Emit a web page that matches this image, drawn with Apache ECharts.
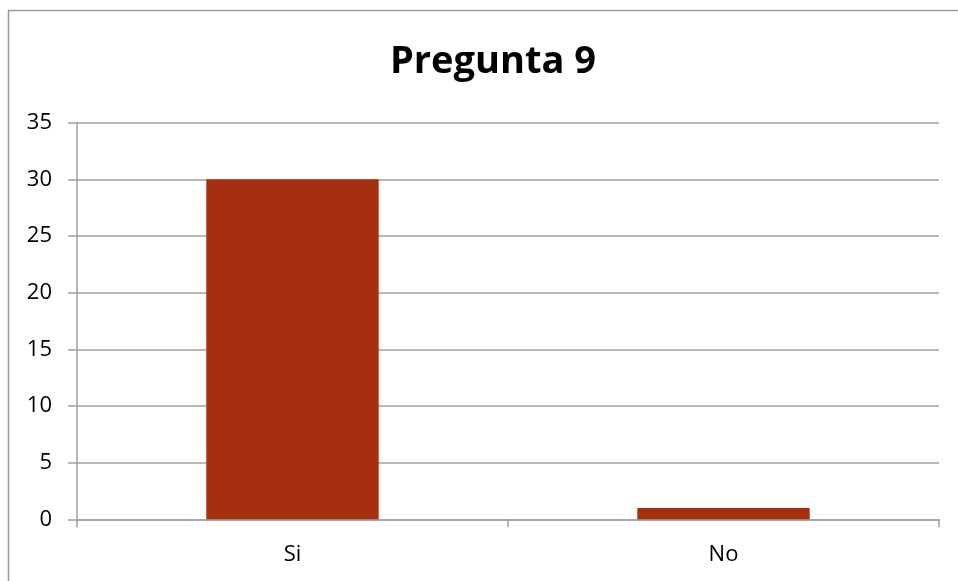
<!DOCTYPE html>
<html>
<head>
<meta charset="utf-8">
<script src="https://cdn.jsdelivr.net/npm/echarts@6/dist/echarts.min.js"></script>
<style>
  html, body { margin: 0; padding: 0; background: #fff; }
  #chart { width: 958px; height: 581px; }
</style>
</head>
<body>
<div id="chart"></div>
<script>
  var categories = ['Si', 'No'];
  var values = [30, 1];
  var titleText = 'Pregunta 9';

  var myChart = echarts.init(document.getElementById('chart'));
  var option = {
    backgroundColor: '#fff',
    animation: false,
    textStyle: { fontFamily: 'Open Sans' },
    graphic: [{
      type: 'rect',
      shape: { x: 8.5, y: 10.5, width: 1000, height: 1000 },
      style: { fill: 'none', stroke: '#9a9a9a', lineWidth: 1.5 },
      silent: true
    }],
    title: {
      text: titleText,
      left: 488,
      top: 38,
      textAlign: 'center',
      textStyle: { fontSize: 38, fontWeight: 'bold', color: '#000', fontFamily: 'Open Sans' }
    },
    grid: { left: 77, right: 19, top: 122.7, bottom: 61.7 },
    xAxis: {
      type: 'category',
      data: categories,
      axisLine: { lineStyle: { color: '#a0a0a0', width: 1.5 } },
      axisTick: { show: true, length: 8, inside: false, lineStyle: { color: '#a0a0a0', width: 1.5 } },
      axisLabel: { margin: 24, fontSize: 22, color: '#000' },
      splitLine: { show: false }
    },
    yAxis: {
      type: 'value',
      min: 0,
      max: 35,
      interval: 5,
      axisLine: { show: true, lineStyle: { color: '#a0a0a0', width: 1.5 } },
      axisTick: { show: true, length: 9, lineStyle: { color: '#a0a0a0', width: 1.5 } },
      axisLabel: { margin: 25, fontSize: 22, color: '#000' },
      splitLine: { lineStyle: { color: '#a0a0a0', width: 1.5 } }
    },
    series: [{
      type: 'bar',
      data: values,
      barWidth: '40%',
      itemStyle: { color: '#a52f0f' }
    }]
  };
  myChart.setOption(option);
</script>
</body>
</html>
